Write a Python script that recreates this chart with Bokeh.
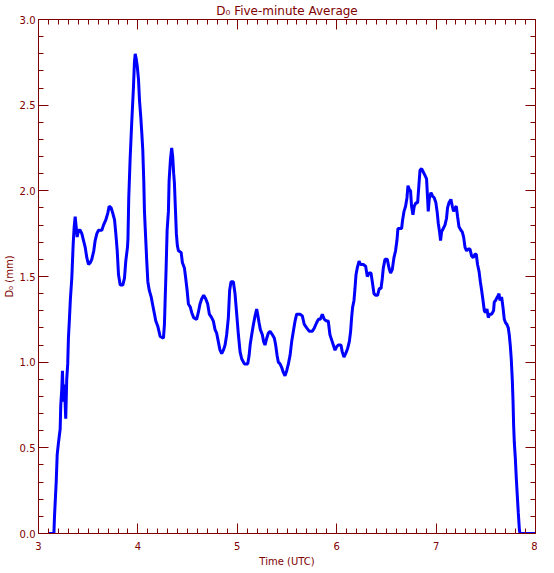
from bokeh.plotting import figure
from bokeh.models import LinearAxis, SingleIntervalTicker, PrintfTickFormatter, Range1d
from bokeh.embed import file_html
from bokeh.resources import INLINE

# ---- data ----
time_utc = [
    3.100, 3.155, 3.161, 3.178, 3.188, 3.201, 3.218, 3.224, 3.234, 3.241,
    3.251, 3.261, 3.274, 3.284, 3.294, 3.301, 3.311, 3.321, 3.335, 3.342,
    3.349, 3.359, 3.369, 3.379, 3.389, 3.402, 3.419, 3.436, 3.453, 3.470,
    3.486, 3.503, 3.520, 3.536, 3.556, 3.570, 3.587, 3.604, 3.637, 3.654,
    3.677, 3.697, 3.711, 3.731, 3.747, 3.765, 3.778, 3.792, 3.805, 3.822,
    3.848, 3.865, 3.878, 3.895, 3.900, 3.908, 3.922, 3.938, 3.955, 3.965,
    3.973, 3.983, 3.993, 4.006, 4.016, 4.029, 4.039, 4.049, 4.059, 4.066,
    4.073, 4.089, 4.100, 4.114, 4.134, 4.147, 4.167, 4.180, 4.200, 4.224,
    4.257, 4.267, 4.274, 4.284, 4.294, 4.307, 4.314, 4.327, 4.340, 4.350,
    4.360, 4.367, 4.377, 4.387, 4.397, 4.408, 4.435, 4.448, 4.468, 4.481,
    4.495, 4.508, 4.528, 4.541, 4.561, 4.591, 4.608, 4.625, 4.642, 4.662,
    4.682, 4.702, 4.719, 4.742, 4.759, 4.776, 4.792, 4.809, 4.826, 4.843,
    4.860, 4.877, 4.893, 4.910, 4.923, 4.937, 4.960, 4.977, 4.994, 5.011,
    5.028, 5.044, 5.071, 5.105, 5.119, 5.129, 5.145, 5.162, 5.179, 5.195,
    5.205, 5.219, 5.232, 5.252, 5.265, 5.279, 5.296, 5.313, 5.330, 5.353,
    5.373, 5.386, 5.400, 5.413, 5.430, 5.446, 5.463, 5.480, 5.497, 5.514,
    5.531, 5.547, 5.564, 5.581, 5.597, 5.631, 5.654, 5.674, 5.698, 5.725,
    5.755, 5.775, 5.798, 5.815, 5.835, 5.855, 5.875, 5.898, 5.915, 5.932,
    5.949, 5.966, 5.983, 5.999, 6.016, 6.043, 6.056, 6.073, 6.090, 6.110,
    6.127, 6.140, 6.150, 6.160, 6.174, 6.184, 6.194, 6.207, 6.225, 6.241,
    6.268, 6.291, 6.308, 6.325, 6.345, 6.358, 6.375, 6.391, 6.411, 6.429,
    6.446, 6.459, 6.469, 6.486, 6.509, 6.526, 6.542, 6.559, 6.576, 6.592,
    6.606, 6.616, 6.636, 6.653, 6.663, 6.677, 6.693, 6.707, 6.717, 6.730,
    6.743, 6.753, 6.767, 6.780, 6.797, 6.814, 6.828, 6.838, 6.854, 6.871,
    6.888, 6.904, 6.914, 6.921, 6.931, 6.948, 6.964, 6.981, 6.998, 7.012,
    7.022, 7.035, 7.045, 7.055, 7.072, 7.089, 7.105, 7.115, 7.129, 7.149,
    7.163, 7.176, 7.190, 7.203, 7.216, 7.230, 7.250, 7.263, 7.277, 7.291,
    7.307, 7.324, 7.341, 7.357, 7.374, 7.391, 7.404, 7.417, 7.432, 7.445,
    7.458, 7.472, 7.485, 7.498, 7.512, 7.525, 7.538, 7.558, 7.578, 7.585,
    7.598, 7.616, 7.633, 7.643, 7.659, 7.673, 7.686, 7.699, 7.713, 7.726,
    7.736, 7.746, 7.756, 7.767, 7.774, 7.780, 7.787, 7.797, 7.807, 7.817,
    7.827, 7.837, 7.843, 8.000,
]
d0_mm = [
    0.00, 0.00, 0.10, 0.30, 0.46, 0.53, 0.61, 0.75, 0.84, 0.95,
    0.77, 0.87, 0.67, 0.90, 0.99, 1.14, 1.25, 1.37, 1.49, 1.59,
    1.69, 1.79, 1.85, 1.79, 1.73, 1.77, 1.77, 1.75, 1.71, 1.67,
    1.61, 1.57, 1.58, 1.60, 1.65, 1.71, 1.75, 1.77, 1.77, 1.80,
    1.83, 1.87, 1.91, 1.90, 1.87, 1.83, 1.75, 1.65, 1.51, 1.45,
    1.45, 1.49, 1.59, 1.67, 1.72, 1.96, 2.19, 2.40, 2.60, 2.75,
    2.80, 2.77, 2.73, 2.65, 2.53, 2.43, 2.34, 2.24, 2.06, 1.88,
    1.79, 1.59, 1.47, 1.42, 1.38, 1.34, 1.28, 1.24, 1.21, 1.15,
    1.14, 1.22, 1.36, 1.55, 1.77, 1.88, 2.06, 2.18, 2.25, 2.20,
    2.10, 2.05, 1.90, 1.75, 1.68, 1.65, 1.64, 1.58, 1.55, 1.49,
    1.42, 1.34, 1.32, 1.29, 1.26, 1.25, 1.29, 1.34, 1.37, 1.39,
    1.37, 1.34, 1.28, 1.26, 1.24, 1.19, 1.17, 1.12, 1.07, 1.05,
    1.07, 1.10, 1.16, 1.26, 1.42, 1.47, 1.47, 1.40, 1.28, 1.16,
    1.06, 1.02, 0.99, 0.99, 1.04, 1.10, 1.16, 1.22, 1.27, 1.31,
    1.28, 1.23, 1.19, 1.16, 1.12, 1.10, 1.14, 1.17, 1.18, 1.16,
    1.14, 1.10, 1.04, 1.00, 0.99, 0.97, 0.94, 0.92, 0.95, 0.99,
    1.04, 1.12, 1.18, 1.24, 1.28, 1.28, 1.27, 1.22, 1.20, 1.18,
    1.18, 1.20, 1.23, 1.25, 1.25, 1.28, 1.25, 1.24, 1.24, 1.16,
    1.13, 1.10, 1.07, 1.09, 1.10, 1.10, 1.06, 1.03, 1.05, 1.08,
    1.12, 1.18, 1.26, 1.32, 1.36, 1.43, 1.51, 1.55, 1.59, 1.57,
    1.57, 1.56, 1.50, 1.52, 1.52, 1.47, 1.40, 1.39, 1.39, 1.43,
    1.43, 1.49, 1.55, 1.60, 1.60, 1.55, 1.52, 1.54, 1.61, 1.65,
    1.71, 1.78, 1.78, 1.78, 1.83, 1.88, 1.91, 1.96, 2.03, 2.01,
    2.00, 1.91, 1.86, 1.91, 1.93, 1.93, 2.04, 2.12, 2.13, 2.11,
    2.09, 2.07, 1.96, 1.88, 1.95, 1.99, 1.97, 1.96, 1.93, 1.87,
    1.81, 1.76, 1.71, 1.76, 1.78, 1.80, 1.84, 1.90, 1.93, 1.95,
    1.91, 1.88, 1.90, 1.91, 1.85, 1.79, 1.77, 1.76, 1.73, 1.67,
    1.65, 1.66, 1.66, 1.62, 1.61, 1.63, 1.63, 1.57, 1.53, 1.47,
    1.42, 1.36, 1.30, 1.29, 1.31, 1.26, 1.28, 1.28, 1.30, 1.35,
    1.36, 1.38, 1.40, 1.36, 1.38, 1.32, 1.25, 1.23, 1.22, 1.20,
    1.16, 1.10, 1.02, 0.89, 0.77, 0.63, 0.53, 0.44, 0.32, 0.22,
    0.12, 0.03, 0.00, 0.00,
]

title_text = "D\u2080 Five-minute Average"
x_title = "Time (UTC)"
y_title = "D\u2080 (mm)"

MAROON = "#800000"
FONT = "DejaVu Sans"

p = figure(
    frame_width=497, frame_height=514,
    x_range=Range1d(3, 8), y_range=Range1d(0, 3),
    output_backend="svg", toolbar_location=None,
    min_border=0, min_border_left=32, min_border_right=2,
    min_border_top=0, min_border_bottom=0,
    title=title_text, x_axis_label=x_title, y_axis_label=y_title,
)
p.outline_line_color = None
p.xgrid.visible = False
p.ygrid.visible = False
p.background_fill_color = "white"
p.border_fill_color = "white"

p.title.text_font = FONT
p.title.text_font_size = "12px"
p.title.text_font_style = "normal"
p.title.text_color = MAROON
p.title.align = "center"
p.title.standoff = 3
p.title.offset = 0


def style(ax, ticker, fmt, show_labels=True):
    ax.ticker = ticker
    ax.formatter = PrintfTickFormatter(format=fmt)
    ax.axis_line_color = MAROON
    ax.axis_line_width = 1
    ax.major_tick_line_color = MAROON
    ax.minor_tick_line_color = MAROON
    ax.major_tick_in = 10
    ax.major_tick_out = 0
    ax.minor_tick_in = 5
    ax.minor_tick_out = 0
    ax.major_label_text_color = MAROON
    ax.major_label_text_font = FONT
    ax.axis_label_text_color = MAROON
    ax.axis_label_text_font = FONT
    ax.axis_label_text_font_size = "10px"
    ax.axis_label_text_font_style = "normal"
    if show_labels:
        ax.major_label_text_font_size = "10px"
    else:
        ax.major_label_text_font_size = "0px"
        ax.major_label_standoff = 0
        ax.major_label_text_alpha = 0


xt = SingleIntervalTicker(interval=1, num_minor_ticks=10)
yt = SingleIntervalTicker(interval=0.5, num_minor_ticks=5)

style(p.xaxis[0], xt, "%d")
p.xaxis[0].major_label_standoff = 8
p.xaxis[0].axis_label_standoff = 3
style(p.yaxis[0], yt, "%.1f")
p.yaxis[0].major_label_standoff = 3
p.yaxis[0].axis_label_standoff = 2

top = LinearAxis()
style(top, SingleIntervalTicker(interval=1, num_minor_ticks=10), "%d", show_labels=False)
p.add_layout(top, "above")
right = LinearAxis()
style(right, SingleIntervalTicker(interval=0.5, num_minor_ticks=5), "%.1f", show_labels=False)
p.add_layout(right, "right")

p.line(time_utc, d0_mm, line_color="#0000FF", line_width=3)

open("out.html", "w").write(file_html(p, INLINE))
